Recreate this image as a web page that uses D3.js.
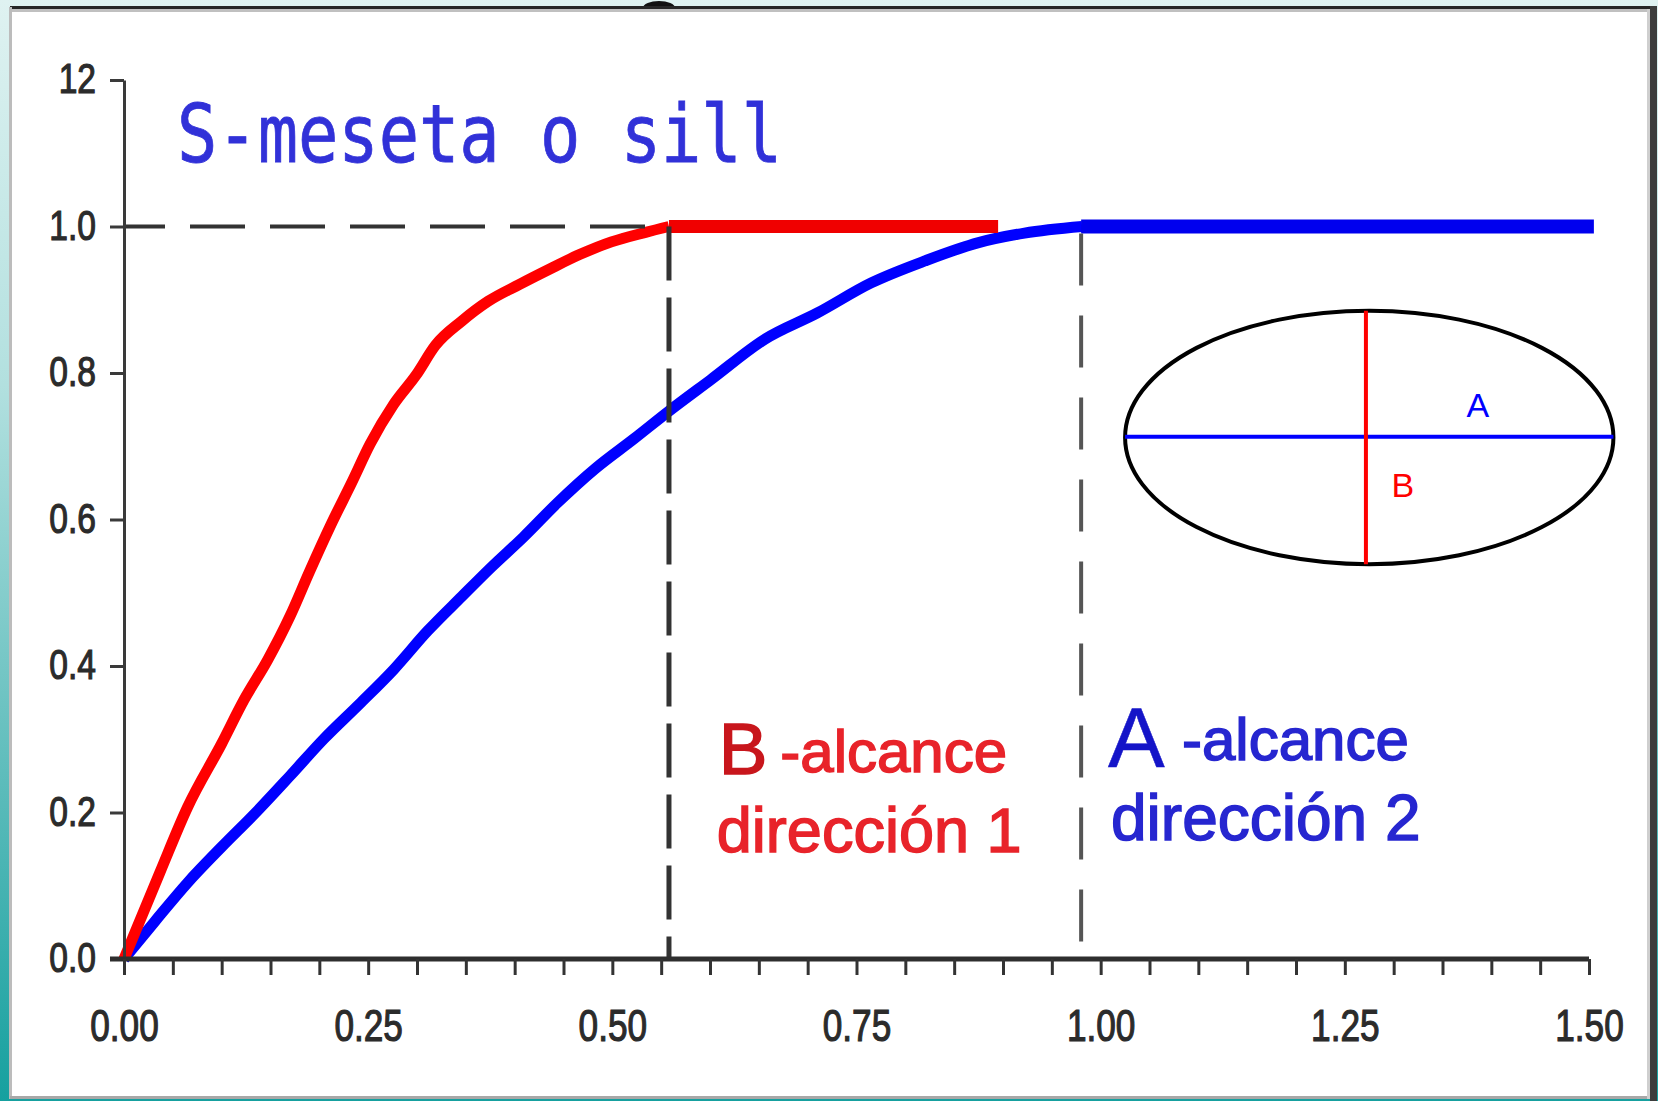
<!DOCTYPE html>
<html>
<head>
<meta charset="utf-8">
<script src="https://cdn.jsdelivr.net/npm/d3@7"></script>
<style>
body { margin: 0; overflow: hidden; background: #fff; }
</style>
</head>
<body>
<div id="chart"></div>
<script>
// variogram curves (lag h, gamma)
var redH = [0, 0.037, 0.065, 0.100, 0.123, 0.147, 0.170, 0.190, 0.213, 0.233, 0.252, 0.276, 0.299, 0.319, 0.346, 0.373, 0.405, 0.436, 0.467, 0.499, 0.534, 0.558];
var redG = [0, 0.119, 0.207, 0.294, 0.354, 0.408, 0.468, 0.529, 0.596, 0.650, 0.703, 0.757, 0.797, 0.838, 0.871, 0.898, 0.921, 0.942, 0.962, 0.979, 0.992, 1.0];

var blueH = [0, 0.032, 0.065, 0.100, 0.135, 0.170, 0.205, 0.241, 0.276, 0.311, 0.346, 0.377, 0.409, 0.444, 0.483, 0.522, 0.558, 0.601, 0.656, 0.710, 0.765, 0.820, 0.875, 0.922, 0.981];
var blueG = [0, 0.052, 0.104, 0.153, 0.200, 0.250, 0.301, 0.348, 0.395, 0.448, 0.495, 0.536, 0.576, 0.623, 0.670, 0.710, 0.748, 0.791, 0.846, 0.882, 0.923, 0.953, 0.978, 0.991, 1.0];

// sill and ranges
var sill = 1.0;
var rangeB = 0.558, rangeA = 0.98;
var redSillEnd = 0.895, blueSillEnd = 1.505;

// anisotropy ellipse (in chart units)
var ellCenter = [1.275, 0.712];
var ellRadii = [0.25, 0.173];
var axisAy = 0.713;
var axisBx = 1.2716;

// axis ticks
var yTicks = [0, 0.2, 0.4, 0.6, 0.8, 1.0, 1.2];
var yTickLabels = ["0.0", "0.2", "0.4", "0.6", "0.8", "1.0", "12"];
var xTicks = [0, 0.25, 0.5, 0.75, 1.0, 1.25, 1.5];
var xTickLabels = ["0.00", "0.25", "0.50", "0.75", "1.00", "1.25", "1.50"];
var xMinorTicks = d3.range(31).map(function(i) { return i * 5 / 100; });

var W = 1658, H = 1101;

var svg = d3.select("#chart")
  .append("svg")
  .attr("width", W)
  .attr("height", H);

// background gradient (teal slide edge)
var grad = svg.append("defs").append("linearGradient")
  .attr("id", "bg").attr("x1", 0).attr("y1", 0).attr("x2", 0).attr("y2", 1);
grad.append("stop").attr("offset", "0%").attr("stop-color", "#dff2f1");
grad.append("stop").attr("offset", "35%").attr("stop-color", "#b2e0df");
grad.append("stop").attr("offset", "70%").attr("stop-color", "#5fbdbc");
grad.append("stop").attr("offset", "100%").attr("stop-color", "#16a09f");

svg.append("rect").attr("width", W).attr("height", H).attr("fill", "url(#bg)");

// cut off glyph at the top
svg.append("ellipse")
  .attr("cx", 659).attr("cy", 8).attr("rx", 16).attr("ry", 7)
  .attr("fill", "#111");

// white panel with its border
svg.append("rect")
  .attr("x", 10).attr("y", 8).attr("width", 1643).attr("height", 1090)
  .attr("fill", "#fff");
svg.append("line").attr("x1", 10).attr("x2", 1657).attr("y1", 7.5).attr("y2", 7.5)
  .attr("stroke", "#262626").attr("stroke-width", 3);
svg.append("line").attr("x1", 12).attr("x2", 1649).attr("y1", 10.5).attr("y2", 10.5)
  .attr("stroke", "#c0c0c0").attr("stroke-width", 3);
svg.append("line").attr("x1", 10.5).attr("x2", 10.5).attr("y1", 7).attr("y2", 1099)
  .attr("stroke", "#bcbcbc").attr("stroke-width", 3);
svg.append("line").attr("x1", 10).attr("x2", 1650).attr("y1", 1097.5).attr("y2", 1097.5)
  .attr("stroke", "#a8a8a8").attr("stroke-width", 3);
svg.append("line").attr("x1", 1648.5).attr("x2", 1648.5).attr("y1", 9).attr("y2", 1099)
  .attr("stroke", "#cfcfcf").attr("stroke-width", 3);
svg.append("line").attr("x1", 1653.5).attr("x2", 1653.5).attr("y1", 6).attr("y2", 1101)
  .attr("stroke", "#3c3c3c").attr("stroke-width", 7);

// scales
var x = d3.scaleLinear().domain([0, 1.5]).range([124, 1589]);
var y = d3.scaleLinear().domain([0, 1.2]).range([959, 80]);

var line = d3.line()
  .x(function(d) { return x(d[0]); })
  .y(function(d) { return y(d[1]); });
var curve = d3.line()
  .curve(d3.curveMonotoneX)
  .x(function(d) { return x(d[0]); })
  .y(function(d) { return y(d[1]); });

var red = redH.map(function(h, i) { return [h, redG[i]]; });
var blue = blueH.map(function(h, i) { return [h, blueG[i]]; });

// blue curve + its sill
svg.append("path")
  .attr("d", curve(blue))
  .attr("fill", "none")
  .attr("stroke", "#0000ff")
  .attr("stroke-width", 11)
  .attr("stroke-linejoin", "round");
svg.append("path")
  .attr("d", line([[rangeA, sill], [blueSillEnd, sill]]))
  .attr("stroke", "#0000ee")
  .attr("stroke-width", 14);

// red curve + its sill
svg.append("path")
  .attr("d", curve(red))
  .attr("fill", "none")
  .attr("stroke", "#ff0000")
  .attr("stroke-width", 11)
  .attr("stroke-linejoin", "round");
svg.append("path")
  .attr("d", line([[rangeB, sill], [redSillEnd, sill]]))
  .attr("stroke", "#f00000")
  .attr("stroke-width", 13);

// dashed guide lines
svg.append("path")
  .attr("d", line([[0, sill], [rangeB, sill]]))
  .attr("stroke", "#333")
  .attr("stroke-width", 4)
  .attr("stroke-dasharray", "55,25")
  .attr("stroke-dashoffset", 14);
svg.append("path")
  .attr("d", line([[rangeB, sill], [rangeB, 0]]))
  .attr("stroke", "#333")
  .attr("stroke-width", 5)
  .attr("stroke-dasharray", "54,17");
svg.append("path")
  .attr("d", line([[rangeA, sill], [rangeA, 0]]))
  .attr("stroke", "#555")
  .attr("stroke-width", 4)
  .attr("stroke-dasharray", "52,30")
  .attr("stroke-dashoffset", -7);

// Y axis
var yAxis = svg.append("g")
  .attr("transform", "translate(" + x(0) + ",0)")
  .call(d3.axisLeft(y)
    .tickValues(yTicks)
    .tickFormat(function(d) { return yTickLabels[yTicks.indexOf(d)]; })
    .tickSize(14)
    .tickSizeOuter(0)
    .tickPadding(14))
  .attr("font-family", "'Liberation Sans', Arial, sans-serif")
  .attr("font-size", 42);
yAxis.select(".domain").attr("stroke", "#3a3a3a").attr("stroke-width", 3);
yAxis.selectAll(".tick line").attr("stroke", "#3a3a3a").attr("stroke-width", 3);
yAxis.selectAll(".tick text").attr("fill", "#2b2b2b").attr("dy", "0.3em");

// X axis
var xAxis = svg.append("g")
  .attr("transform", "translate(0," + y(0) + ")")
  .call(d3.axisBottom(x)
    .tickValues(xMinorTicks)
    .tickFormat(function(d) {
      var k = xTicks.findIndex(function(t) { return Math.abs(t - d) < 1e-6; });
      return k < 0 ? "" : xTickLabels[k];
    })
    .tickSize(16)
    .tickSizeOuter(0)
    .tickPadding(35))
  .attr("font-family", "'Liberation Sans', Arial, sans-serif")
  .attr("font-size", 44);
xAxis.select(".domain")
  .attr("d", "M" + (x(0) - 14) + ",0H" + x(1.5))
  .attr("stroke", "#2e2e2e").attr("stroke-width", 5);
xAxis.selectAll(".tick line").attr("stroke", "#333").attr("stroke-width", 3);
xAxis.selectAll(".tick text").attr("fill", "#2b2b2b");

// squeeze the tick labels, they are narrow and heavy in the original
svg.selectAll(".tick text").each(function() {
  var w = this.getComputedTextLength();
  if (w > 0) {
    d3.select(this)
      .attr("textLength", w * 0.8)
      .attr("lengthAdjust", "spacingAndGlyphs")
      .attr("stroke", "#2b2b2b")
      .attr("stroke-width", 1.2);
  }
});

// title
svg.append("text")
  .attr("x", x(0.0543))
  .attr("y", y(1.088))
  .attr("font-family", "'DejaVu Sans Mono', monospace")
  .attr("font-size", 80)
  .attr("fill", "#3131d8")
  .attr("stroke", "#3131d8")
  .attr("stroke-width", 0.8)
  .attr("textLength", 605)
  .attr("lengthAdjust", "spacingAndGlyphs")
  .text("S-meseta o sill");

// ellipse with the two directions
svg.append("ellipse")
  .attr("cx", x(ellCenter[0]))
  .attr("cy", y(ellCenter[1]))
  .attr("rx", x(ellRadii[0]) - x(0))
  .attr("ry", y(0) - y(ellRadii[1]))
  .attr("fill", "none")
  .attr("stroke", "#000")
  .attr("stroke-width", 4);
svg.append("path")
  .attr("d", line([[ellCenter[0] - ellRadii[0], axisAy], [ellCenter[0] + ellRadii[0], axisAy]]))
  .attr("stroke", "#0000ff")
  .attr("stroke-width", 4);
svg.append("path")
  .attr("d", line([[axisBx, ellCenter[1] + ellRadii[1]], [axisBx, ellCenter[1] - ellRadii[1]]]))
  .attr("stroke", "#ff0000")
  .attr("stroke-width", 4);
svg.append("text")
  .attr("x", x(1.3863)).attr("y", y(0.740))
  .attr("text-anchor", "middle")
  .attr("font-family", "'Liberation Sans', Arial, sans-serif")
  .attr("font-size", 34)
  .attr("fill", "#0000ff")
  .text("A");
svg.append("text")
  .attr("x", x(1.3095)).attr("y", y(0.6307))
  .attr("text-anchor", "middle")
  .attr("font-family", "'Liberation Sans', Arial, sans-serif")
  .attr("font-size", 34)
  .attr("fill", "#ff0000")
  .text("B");

// range annotations
function note(t, hx, gy, size, color, thick) {
  svg.append("text")
    .attr("x", x(hx)).attr("y", y(gy))
    .attr("font-family", "'Liberation Sans', Arial, sans-serif")
    .attr("font-size", size)
    .attr("fill", color)
    .attr("stroke", color)
    .attr("stroke-width", thick)
    .text(t);
}
note("B", 0.609, 0.2526, 73, "#c8161c", 1.5);
note("-alcance", 0.672, 0.2553, 60, "#e8232a", 1.5);
note("dirección 1", 0.607, 0.146, 63, "#e8232a", 1.5);
note("A", 1.0075, 0.262, 85, "#1414c8", 0.5);
note("-alcance", 1.0833, 0.2717, 60, "#2626d0", 1.5);
note("dirección 2", 1.0106, 0.1625, 64, "#2626d0", 1.5);
</script>
</body>
</html>
